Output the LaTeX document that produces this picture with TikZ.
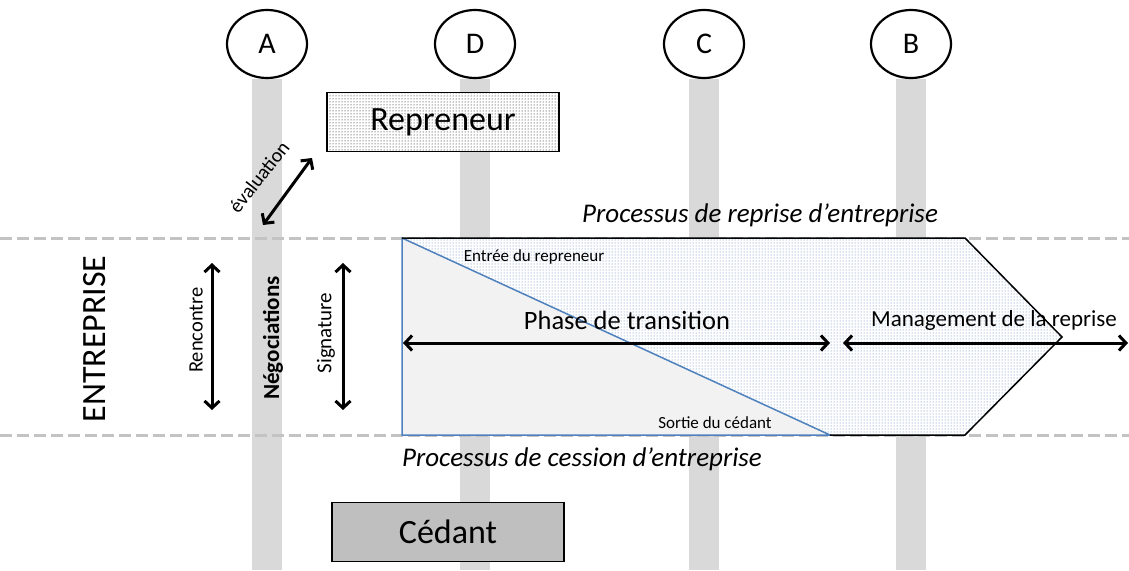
\documentclass[tikz,border=0pt]{standalone}
\usepackage{fontspec}
\setmainfont{Carlito}
\usetikzlibrary{patterns,arrows.meta,shapes.geometric,backgrounds}

\definecolor{bargray}{RGB}{217,217,217}
\definecolor{dashgray}{RGB}{195,195,195}
\definecolor{edgeblue}{RGB}{79,129,189}
\definecolor{lightfill}{RGB}{242,242,242}
\definecolor{boxgray}{RGB}{191,191,191}

\tikzset{
  phase/.style={draw, line width=2.2pt, ellipse, fill=white, minimum width=80, minimum height=68,
    inner sep=0pt, font=\fontsize{30}{32}\selectfont},
  actor/.style={draw, line width=1.5pt, minimum width=232, minimum height=59,
    font=\fontsize{34}{38}\selectfont},
  twoway/.style={{Straight Barb[length=7pt,width=15pt]}-{Straight Barb[length=7pt,width=15pt]}, line width=3pt},
  limit/.style={dashgray, line width=3pt, dash pattern=on 12pt off 5pt},
  side/.style={rotate=90, font=\fontsize{20.5}{23}\selectfont},
  process/.style={font=\fontsize{27}{30}\selectfont\itshape}
}

\begin{document}
\begin{tikzpicture}[x=1pt,y=-1pt]
\useasboundingbox (0,0) rectangle (1129,570);

% phases and their bars
\node[phase] (A) at (267,44) {A};
\node[phase] (D) at (475,44) {D};
\node[phase] (C) at (704,44) {C};
\node[phase] (B) at (911,44) {B};
\begin{scope}[on background layer]
\foreach \p in {A,D,C,B}
  \fill[bargray] ([xshift=-15]\p.south) rectangle ([xshift=15]\p.south |- 0,570);
\end{scope}

% limits of the company
\draw[limit] (0,238) -- (1129,238);
\draw[limit] (0,435) -- (1129,435);

% transition block
\path[preaction={fill=white}, pattern=dots, pattern color=edgeblue]
  (402,238) -- (965,238) -- (1062,337) -- (965,435) -- (402,435) -- cycle;
\filldraw[fill=lightfill, draw=edgeblue, line width=1.5pt] (402,238) -- (830,435) -- (402,435) -- cycle;
\draw[line width=1.5pt] (402,238) -- (965,238) -- (1062,337) -- (965,435) -- (830,435);

\node[font=\fontsize{17}{19}\selectfont] (entree) at (534,257) {Entrée du repreneur};
\node[font=\fontsize{17}{19}\selectfont] (sortie) at (715,423) {Sortie du cédant};

\coordinate (t1) at (403,343);
\coordinate (t2) at (830,343);
\coordinate (m1) at (843,343);
\coordinate (m2) at (1128,343);
\draw[twoway] (t1) -- (t2);
\draw[twoway] (m1) -- (m2);
\node[font=\fontsize{26.5}{29}\selectfont] (transition) at (627,320) {Phase de transition};
\node[font=\fontsize{23}{26}\selectfont] (management) at (994,320) {Management de la reprise};

\node[process] (reprise) at (760,215) {Processus de reprise d’entreprise};
\node[process] (cession) at (582,459) {Processus de cession d’entreprise};

% actors
\node[actor, preaction={fill=white}, pattern=dots] (repreneur) at (443,122) {};
\node[font=\fontsize{34}{38}\selectfont] at (repreneur) {Repreneur};
\node[actor, fill=boxgray] (cedant) at (448,532) {Cédant};

% steps of phase A
\node[rotate=90, font=\fontsize{34}{38}\selectfont] (entreprise) at (95,339) {ENTREPRISE};
\node[side] (rencontre) at (196,330) {Rencontre};
\node[side, font=\fontsize{23}{26}\selectfont\bfseries] (nego) at (273,338) {Négociations};
\node[side, font=\fontsize{21}{24}\selectfont] (signature) at (326,333) {Signature};
\node[rotate=52, font=\fontsize{20}{22}\selectfont] (evaluation) at (259,177) {évaluation};

\coordinate (r1) at (212,263);
\coordinate (r2) at (212,410);
\coordinate (s1) at (343,263);
\coordinate (s2) at (343,410);
\coordinate (e1) at (263,225);
\coordinate (e2) at (312,158);
\draw[twoway] (r1) -- (r2);
\draw[twoway] (s1) -- (s2);
\draw[twoway] (e1) -- (e2);
\end{tikzpicture}
\end{document}
